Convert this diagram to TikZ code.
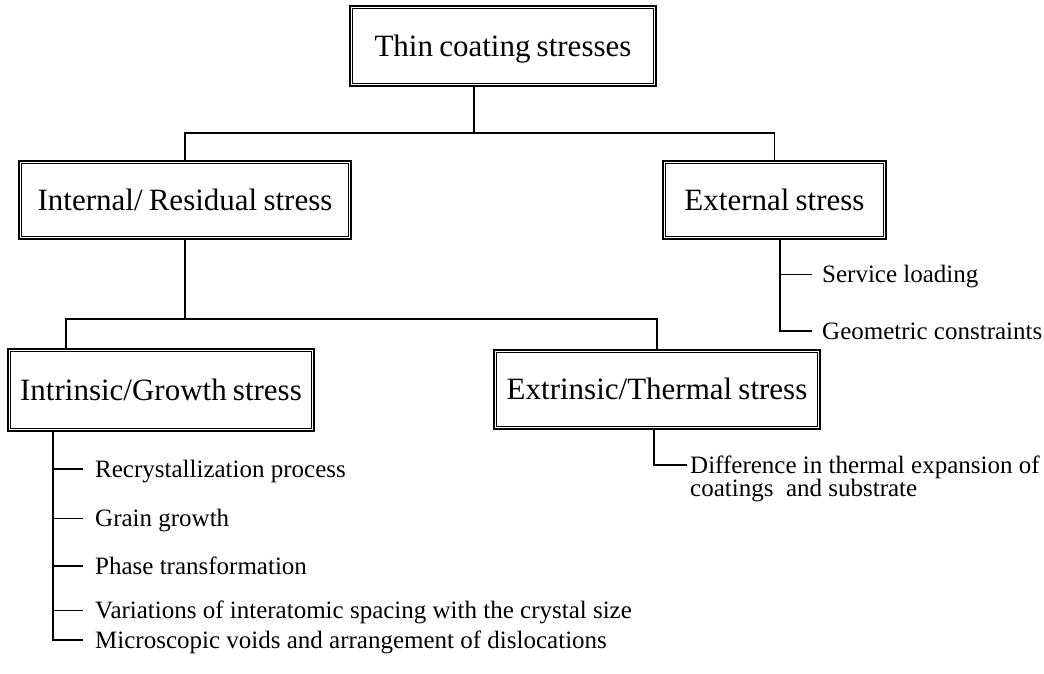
\documentclass[tikz,border=0pt]{standalone}
\usepackage{fontspec}
\setmainfont{Liberation Serif}
\newcommand{\boxfont}{\fontsize{31}{34}\selectfont\spaceskip=0.2em plus 0.05em minus 0.05em\relax}
\newcommand{\itemfont}{\fontsize{25}{23}\selectfont}
\begin{document}
\begin{tikzpicture}[x=1pt,y=-1pt,
  dbox/.style={draw, line width=1.8pt, inner sep=0pt, font=\boxfont, text height=20pt, text depth=0pt},
  conn/.style={line width=1.4pt},
  thk/.style={line width=1.8pt},
  thn/.style={line width=1pt},
  item/.style={anchor=base west, inner sep=0pt, font=\itemfont, text height=16pt, text depth=0pt},
  inbox/.style={line width=0.8pt}
]
\useasboundingbox (0,0) rectangle (1044,673);

% boxes
\node[dbox, minimum width=306pt, minimum height=80pt] (top) at (503,46) {Thin coating stresses};
\node[dbox, minimum width=332pt, minimum height=78pt] (internal) at (185,200) {Internal/ Residual stress};
\node[dbox, minimum width=223pt, minimum height=78pt] (external) at (774.5,200) {External stress};
\node[dbox, minimum width=306pt, minimum height=82pt] (intrinsic) at (161,390) {Intrinsic/Growth stress};
\node[dbox, minimum width=326pt, minimum height=79pt] (extrinsic) at (657,389.5) {Extrinsic/Thermal stress};

\foreach \n in {top,internal,external,intrinsic,extrinsic}{
  \draw[inbox] ([xshift=3.2pt,yshift=-3.2pt]\n.north west) rectangle ([xshift=-3.2pt,yshift=3.2pt]\n.south east);
}

% main tree connectors
\coordinate (j1) at (474,133);
\draw[conn] (top.south -| j1) -- (j1);
\draw[conn] (internal.north) |- (j1) -| (external.north);

\coordinate (j2) at (185,319);
\coordinate (jl) at (66,319);
\draw[conn] (internal.south) -- (j2);
\draw[conn] (intrinsic.north -| jl) -- (jl) -| (extrinsic.north);

% external stress items
\node[item] (sl) at (822,282) {Service loading};
\node[item] (gc) at (822,339) {Geometric constraints};
\coordinate (e0) at (780,0);
\draw[conn] (external.south -| e0) |- ([xshift=-10pt]gc.west);
\draw[thn] (sl.west -| e0) -- ([xshift=-10pt]sl.west);

% intrinsic items
\node[item] (r1) at (95,477) {Recrystallization process};
\node[item] (r2) at (95,526) {Grain growth};
\node[item] (r3) at (95,574) {Phase transformation};
\node[item] (r4) at (95,618) {Variations of interatomic spacing with the crystal size};
\node[item] (r5) at (95,648) {Microscopic voids and arrangement of dislocations};
\coordinate (i0) at (53,0);
\draw[conn] (intrinsic.south -| i0) |- ([xshift=-12pt]r5.west);
\draw[thk] (r1.west -| i0) -- ([xshift=-12pt]r1.west);
\draw[thn] (r2.west -| i0) -- ([xshift=-12pt]r2.west);
\draw[thk] (r3.west -| i0) -- ([xshift=-12pt]r3.west);
\draw[thn] (r4.west -| i0) -- ([xshift=-12pt]r4.west);

% extrinsic item
\node[anchor=north west, inner sep=0pt, font=\itemfont, align=left] (diff) at (690,455.7) {Difference in thermal expansion of\\coatings\ \ and substrate};
\coordinate (x0) at (654,0);
\draw[thk] (extrinsic.south -| x0) |- ([xshift=-3pt,yshift=-9.5pt]diff.north west);
\end{tikzpicture}
\end{document}
